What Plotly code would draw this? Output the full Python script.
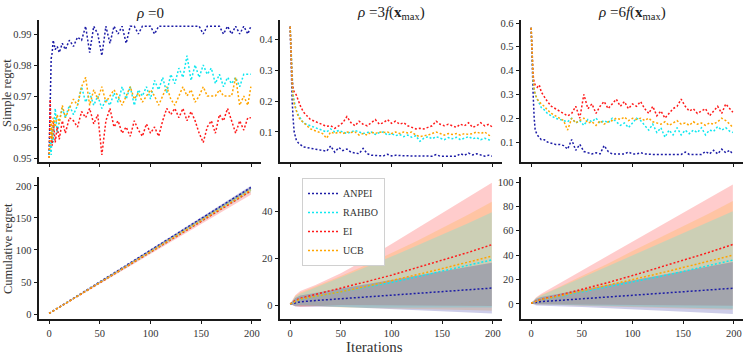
import plotly.graph_objects as go

# ---------------- data ----------------
METHODS = ["ANPEI", "RAHBO", "EI", "UCB"]
TITLES = ["<i>ρ</i> =0", "<i>ρ</i> =3<i>f</i>(<b>x</b><sub>max</sub>)", "<i>ρ</i> =6<i>f</i>(<b>x</b><sub>max</sub>)"]

ITER = [0, 1, 2, 3, 4, 6, 8, 10, 13, 16,
        20, 24, 28, 32, 36, 40, 44, 48, 52, 56,
        60, 64, 68, 72, 76, 80, 84, 88, 92, 96,
        100, 104, 108, 112, 116, 120, 124, 128, 132, 136,
        140, 144, 148, 152, 156, 160, 164, 168, 172, 176,
        180, 184, 188, 192, 196, 199]

# simple regret, rho = 0
s0_anpei = [0.951, 0.975, 0.982, 0.984, 0.988, 0.985, 0.986, 0.984, 0.987, 0.985,
            0.988, 0.986, 0.989, 0.988, 0.9925, 0.984, 0.9925, 0.990, 0.983, 0.9925,
            0.987, 0.9925, 0.990, 0.9925, 0.987, 0.9925, 0.9925, 0.990, 0.9925, 0.9925,
            0.9925, 0.990, 0.9925, 0.9925, 0.9925, 0.9925, 0.9925, 0.9925, 0.9925, 0.9925,
            0.9925, 0.9925, 0.9925, 0.990, 0.9925, 0.9925, 0.9925, 0.9925, 0.990, 0.9925,
            0.990, 0.9925, 0.990, 0.9925, 0.990, 0.9925]
s0_rahbo = [0.951, 0.955, 0.951, 0.960, 0.955, 0.966, 0.958, 0.962, 0.966, 0.963,
            0.967, 0.964, 0.967, 0.973, 0.968, 0.971, 0.967, 0.970, 0.966, 0.969,
            0.967, 0.971, 0.968, 0.973, 0.969, 0.973, 0.967, 0.972, 0.970, 0.973,
            0.969, 0.975, 0.972, 0.976, 0.971, 0.977, 0.974, 0.979, 0.976, 0.983,
            0.975, 0.980, 0.976, 0.980, 0.977, 0.979, 0.974, 0.977, 0.973, 0.976,
            0.974, 0.976, 0.973, 0.977, 0.977, 0.977]
s0_ei = [0.950, 0.969, 0.958, 0.954, 0.962, 0.955, 0.960, 0.956, 0.962, 0.958,
         0.963, 0.962, 0.960, 0.965, 0.963, 0.966, 0.961, 0.964, 0.951, 0.962,
         0.966, 0.960, 0.962, 0.958, 0.960, 0.957, 0.962, 0.959, 0.957, 0.961,
         0.958, 0.960, 0.957, 0.962, 0.966, 0.964, 0.966, 0.963, 0.966, 0.962,
         0.965, 0.962, 0.958, 0.955, 0.960, 0.962, 0.958, 0.964, 0.962, 0.966,
         0.962, 0.958, 0.962, 0.959, 0.963, 0.963]
s0_ucb = [0.950, 0.958, 0.962, 0.956, 0.963, 0.960, 0.964, 0.961, 0.967, 0.963,
          0.966, 0.969, 0.967, 0.973, 0.976, 0.967, 0.972, 0.969, 0.973, 0.968,
          0.970, 0.972, 0.970, 0.967, 0.970, 0.973, 0.969, 0.971, 0.968, 0.970,
          0.972, 0.970, 0.967, 0.970, 0.973, 0.969, 0.967, 0.970, 0.973, 0.970,
          0.972, 0.968, 0.970, 0.973, 0.970, 0.970, 0.970, 0.972, 0.970, 0.970,
          0.970, 0.976, 0.967, 0.970, 0.967, 0.973]

# simple regret, rho = 3 f(x_max)
s3_anpei = [0.44, 0.30, 0.20, 0.14, 0.10, 0.075, 0.065, 0.060, 0.052, 0.050,
            0.048, 0.045, 0.042, 0.040, 0.038, 0.055, 0.035, 0.050, 0.040, 0.045,
            0.035, 0.032, 0.030, 0.047, 0.030, 0.025, 0.025, 0.025, 0.023, 0.028,
            0.023, 0.025, 0.023, 0.023, 0.023, 0.023, 0.022, 0.022, 0.022, 0.022,
            0.022, 0.027, 0.022, 0.022, 0.022, 0.022, 0.022, 0.030, 0.025, 0.032,
            0.026, 0.030, 0.025, 0.022, 0.025, 0.022]
s3_rahbo = [0.44, 0.35, 0.27, 0.22, 0.20, 0.17, 0.155, 0.145, 0.13, 0.125,
            0.12, 0.115, 0.11, 0.105, 0.10, 0.11, 0.10, 0.105, 0.10, 0.095,
            0.10, 0.105, 0.10, 0.095, 0.098, 0.10, 0.092, 0.098, 0.10, 0.09,
            0.095, 0.088, 0.092, 0.085, 0.09, 0.083, 0.088, 0.07, 0.08, 0.085,
            0.078, 0.085, 0.08, 0.075, 0.082, 0.078, 0.083, 0.075, 0.08, 0.085,
            0.078, 0.082, 0.075, 0.08, 0.075, 0.073]
s3_ei = [0.44, 0.34, 0.27, 0.24, 0.23, 0.22, 0.20, 0.185, 0.165, 0.155,
         0.14, 0.135, 0.13, 0.125, 0.118, 0.12, 0.112, 0.12, 0.13, 0.15,
         0.13, 0.12, 0.135, 0.125, 0.12, 0.13, 0.14, 0.125, 0.13, 0.14,
         0.128, 0.135, 0.125, 0.13, 0.12, 0.115, 0.11, 0.112, 0.11, 0.115,
         0.12, 0.135, 0.125, 0.12, 0.125, 0.12, 0.115, 0.125, 0.12, 0.13,
         0.115, 0.12, 0.13, 0.12, 0.125, 0.117]
s3_ucb = [0.44, 0.32, 0.25, 0.21, 0.19, 0.17, 0.15, 0.14, 0.13, 0.12,
          0.11, 0.105, 0.10, 0.095, 0.08, 0.10, 0.095, 0.10, 0.095, 0.10,
          0.098, 0.10, 0.09, 0.095, 0.09, 0.10, 0.095, 0.10, 0.098, 0.10,
          0.095, 0.10, 0.095, 0.10, 0.097, 0.10, 0.09, 0.085, 0.088, 0.09,
          0.095, 0.10, 0.095, 0.09, 0.095, 0.092, 0.095, 0.09, 0.095, 0.092,
          0.095, 0.10, 0.095, 0.10, 0.09, 0.085]

# simple regret, rho = 6 f(x_max)
s6_anpei = [0.58, 0.40, 0.30, 0.20, 0.15, 0.13, 0.12, 0.11, 0.11, 0.10,
            0.095, 0.09, 0.09, 0.085, 0.07, 0.11, 0.065, 0.09, 0.06, 0.055,
            0.05, 0.055, 0.05, 0.085, 0.06, 0.05, 0.05, 0.05, 0.05, 0.058,
            0.05, 0.05, 0.055, 0.05, 0.048, 0.048, 0.048, 0.048, 0.048, 0.048,
            0.048, 0.048, 0.048, 0.058, 0.048, 0.048, 0.048, 0.048, 0.06, 0.05,
            0.065, 0.05, 0.07, 0.055, 0.065, 0.048]
s6_rahbo = [0.58, 0.45, 0.36, 0.32, 0.30, 0.28, 0.26, 0.245, 0.235, 0.22,
            0.21, 0.20, 0.195, 0.19, 0.185, 0.20, 0.18, 0.19, 0.17, 0.195,
            0.185, 0.20, 0.18, 0.19, 0.18, 0.20, 0.185, 0.17, 0.18, 0.16,
            0.18, 0.20, 0.19, 0.17, 0.15, 0.175, 0.14, 0.16, 0.12, 0.15,
            0.13, 0.16, 0.13, 0.15, 0.135, 0.15, 0.14, 0.16, 0.13, 0.15,
            0.145, 0.165, 0.15, 0.16, 0.145, 0.14]
s6_ei = [0.58, 0.45, 0.38, 0.35, 0.34, 0.33, 0.34, 0.31, 0.29, 0.27,
         0.25, 0.24, 0.23, 0.22, 0.21, 0.22, 0.25, 0.20, 0.30, 0.24,
         0.26, 0.22, 0.25, 0.27, 0.24, 0.26, 0.28, 0.25, 0.27, 0.24,
         0.26, 0.25, 0.27, 0.24, 0.22, 0.25, 0.21, 0.23, 0.20, 0.22,
         0.24, 0.25, 0.28, 0.25, 0.23, 0.24, 0.22, 0.23, 0.24, 0.21,
         0.23, 0.25, 0.22, 0.26, 0.24, 0.225]
s6_ucb = [0.58, 0.45, 0.36, 0.32, 0.30, 0.28, 0.27, 0.26, 0.25, 0.235,
          0.22, 0.21, 0.20, 0.19, 0.15, 0.20, 0.18, 0.19, 0.20, 0.18,
          0.185, 0.17, 0.19, 0.175, 0.185, 0.19, 0.20, 0.195, 0.205, 0.19,
          0.20, 0.195, 0.20, 0.19, 0.20, 0.185, 0.18, 0.175, 0.185, 0.17,
          0.18, 0.19, 0.175, 0.18, 0.17, 0.185, 0.175, 0.18, 0.17, 0.18,
          0.175, 0.185, 0.20, 0.19, 0.175, 0.16]

# cumulative regret (mean, upper, lower)
ITER_C = [0, 5, 10, 25, 50, 75, 100, 125, 150, 175, 199]

c0_anpei = [0.95, 5.8, 10.7, 25.5, 50.2, 74.9, 99.6, 124.4, 149.1, 173.9, 197.6]
c0_anpei_hi = [0.95, 5.9, 10.9, 26.0, 51.0, 76.0, 101.0, 126.1, 151.2, 176.3, 200.5]
c0_anpei_lo = [0.95, 5.7, 10.5, 25.0, 49.4, 73.8, 98.2, 122.7, 147.0, 171.5, 194.7]
c0_rahbo = [0.95, 5.7, 10.5, 24.9, 49.0, 73.2, 97.3, 121.6, 146.0, 170.4, 194.3]
c0_rahbo_hi = [0.95, 5.9, 10.8, 25.5, 50.1, 74.8, 99.4, 124.2, 149.0, 173.9, 198.3]
c0_rahbo_lo = [0.95, 5.5, 10.2, 24.3, 47.9, 71.6, 95.2, 119.0, 143.0, 166.9, 190.3]
c0_ei = [0.95, 5.7, 10.4, 24.7, 48.7, 72.6, 96.6, 120.6, 144.7, 168.6, 192.3]
c0_ei_hi = [0.95, 5.9, 10.8, 25.5, 50.2, 74.8, 99.5, 124.2, 149.0, 173.7, 198.3]
c0_ei_lo = [0.95, 5.4, 10.0, 23.8, 47.1, 70.4, 93.7, 117.0, 140.4, 163.6, 186.3]
c0_ucb = [0.95, 5.7, 10.5, 24.9, 49.0, 73.2, 97.4, 121.7, 145.9, 170.2, 193.9]
c0_ucb_hi = [0.95, 5.9, 10.8, 25.5, 50.0, 74.6, 99.2, 123.9, 148.5, 173.2, 197.4]
c0_ucb_lo = [0.95, 5.5, 10.2, 24.3, 48.0, 71.8, 95.6, 119.5, 143.3, 167.2, 190.4]

c3_anpei = [0.44, 1.0, 1.35, 1.9, 2.7, 3.5, 4.2, 4.9, 5.7, 6.5, 7.2]
c3_anpei_hi = [0.44, 3.0, 4.0, 5.1, 6.9, 8.7, 10.6, 12.4, 14.3, 16.1, 18.0]
c3_anpei_lo = [0.44, -0.6, -0.9, -0.9, -0.9, -1.3, -1.8, -2.2, -2.6, -3.1, -3.6]
c3_rahbo = [0.44, 1.6, 2.4, 3.6, 5.4, 7.5, 9.6, 12.0, 14.4, 16.8, 19.2]
c3_rahbo_hi = [0.44, 3.5, 4.8, 7.5, 11.8, 16.2, 20.6, 25.2, 29.9, 34.7, 39.5]
c3_rahbo_lo = [0.44, -0.3, 0.0, -0.3, -0.9, -1.2, -1.3, -1.3, -1.2, -1.1, -1.1]
c3_ei = [0.44, 1.9, 2.9, 4.5, 7.0, 9.9, 12.7, 15.8, 19.0, 22.3, 25.7]
c3_ei_hi = [0.44, 4.2, 6.0, 8.5, 13.5, 19.5, 26.0, 32.5, 39.0, 45.5, 52.0]
c3_ei_lo = [0.44, -0.5, -0.8, -0.5, 0.0, 0.2, 0.0, -0.1, -0.2, -0.3, -0.4]
c3_ucb = [0.44, 1.6, 2.5, 3.7, 5.6, 7.9, 10.3, 12.9, 15.5, 18.1, 20.8]
c3_ucb_hi = [0.44, 3.8, 5.3, 7.8, 12.3, 17.0, 22.0, 27.3, 32.8, 38.3, 44.0]
c3_ucb_lo = [0.44, -0.4, -0.3, -0.4, -1.1, -1.3, -1.5, -1.7, -1.9, -2.1, -2.4]

c6_anpei = [0.58, 1.5, 2.0, 2.8, 4.2, 5.6, 7.0, 8.4, 9.9, 11.4, 12.9]
c6_anpei_hi = [0.58, 4.3, 5.7, 8.0, 11.8, 15.4, 19.2, 23.0, 26.8, 30.6, 34.5]
c6_anpei_lo = [0.58, -1.2, -1.7, -1.8, -2.5, -3.5, -4.5, -5.5, -6.4, -7.3, -8.3]
c6_rahbo = [0.58, 2.3, 3.8, 5.8, 9.8, 14.0, 18.0, 22.2, 26.7, 31.3, 36.0]
c6_rahbo_hi = [0.58, 4.8, 7.0, 12.5, 21.6, 30.7, 39.9, 49.0, 58.1, 67.2, 76.0]
c6_rahbo_lo = [0.58, -0.3, -0.3, -0.4, -0.9, -1.5, -2.0, -2.5, -3.0, -3.5, -4.0]
c6_ei = [0.58, 2.6, 4.0, 6.6, 11.7, 17.4, 23.3, 29.4, 35.6, 42.2, 48.8]
c6_ei_hi = [0.58, 5.5, 8.5, 15.6, 27.4, 39.3, 51.1, 62.9, 74.8, 86.6, 98.0]
c6_ei_lo = [0.58, -0.3, -0.2, 0.2, -0.2, -0.2, -0.5, -0.8, -1.0, -1.2, -1.4]
c6_ucb = [0.58, 2.4, 3.8, 6.0, 10.5, 15.0, 20.0, 24.8, 29.9, 34.9, 40.0]
c6_ucb_hi = [0.58, 5.0, 7.6, 13.0, 23.0, 32.8, 43.4, 53.6, 63.8, 74.0, 84.5]
c6_ucb_lo = [0.58, -0.4, -0.5, -0.6, -1.5, -2.2, -2.8, -3.3, -3.8, -4.3, -4.8]

SIMPLE = [
    [s0_anpei, s0_rahbo, s0_ei, s0_ucb],
    [s3_anpei, s3_rahbo, s3_ei, s3_ucb],
    [s6_anpei, s6_rahbo, s6_ei, s6_ucb],
]
CUMUL = [
    [(c0_anpei, c0_anpei_hi, c0_anpei_lo), (c0_rahbo, c0_rahbo_hi, c0_rahbo_lo),
     (c0_ei, c0_ei_hi, c0_ei_lo), (c0_ucb, c0_ucb_hi, c0_ucb_lo)],
    [(c3_anpei, c3_anpei_hi, c3_anpei_lo), (c3_rahbo, c3_rahbo_hi, c3_rahbo_lo),
     (c3_ei, c3_ei_hi, c3_ei_lo), (c3_ucb, c3_ucb_hi, c3_ucb_lo)],
    [(c6_anpei, c6_anpei_hi, c6_anpei_lo), (c6_rahbo, c6_rahbo_hi, c6_rahbo_lo),
     (c6_ei, c6_ei_hi, c6_ei_lo), (c6_ucb, c6_ucb_hi, c6_ucb_lo)],
]

# ---------------- styling ----------------
W, H = 748, 359
LINE_COLORS = ["#1c1ca6", "#10e8f0", "#ff1a1a", "#ffa500"]
FILL_COLORS = ["rgba(0,0,139,0.2)", "rgba(0,255,255,0.2)", "rgba(255,0,0,0.2)", "rgba(255,165,0,0.2)"]
FILL_ORDER = [2, 3, 1, 0]  # EI, UCB, RAHBO, ANPEI
FONT = "Liberation Serif, DejaVu Serif, serif"
DASH = "2px,2px"

COL_PX = [(39, 261), (280, 502), (521, 743)]
ROW_PX = [(20, 162), (177, 319)]  # top px, bottom px
Y_RANGES = [
    [(0.94871, 0.99452), (0.0032, 0.4613), (0.016, 0.6126)],
    [(-7.8, 214), (-5.96, 54.5), (-12.3, 104.1)],
]
Y_TICKS = [
    [[0.95, 0.96, 0.97, 0.98, 0.99], [0.1, 0.2, 0.3, 0.4], [0.1, 0.2, 0.3, 0.4, 0.5, 0.6]],
    [[0, 50, 100, 150, 200], [0, 20, 40], [0, 20, 40, 60, 80, 100]],
]

fig = go.Figure()
layout = {}

for r in range(2):
    for c in range(3):
        idx = r * 3 + c + 1
        xa = "xaxis" if idx == 1 else f"xaxis{idx}"
        ya = "yaxis" if idx == 1 else f"yaxis{idx}"
        xref = "x" if idx == 1 else f"x{idx}"
        yref = "y" if idx == 1 else f"y{idx}"
        x0, x1 = COL_PX[c]
        t, b = ROW_PX[r]
        common = dict(showline=True, linecolor="#1a1a1a", linewidth=1.6, ticks="outside",
                      ticklen=3.5, tickwidth=1, tickcolor="#1a1a1a", showgrid=False,
                      zeroline=False, mirror=False, automargin=False,
                      tickfont=dict(family=FONT, size=10.5, color="#333333"))
        layout[xa] = dict(common, domain=[x0 / W, x1 / W], range=[-10, 209],
                          tickvals=[0, 50, 100, 150, 200], anchor=yref,
                          showticklabels=(r == 1))
        layout[ya] = dict(common, domain=[(H - b) / H, (H - t) / H],
                          range=list(Y_RANGES[r][c]), tickvals=Y_TICKS[r][c], anchor=xref)

        if r == 0:
            for m in range(4):
                fig.add_trace(go.Scatter(
                    x=ITER, y=SIMPLE[c][m], mode="lines", xaxis=xref, yaxis=yref,
                    line=dict(color=LINE_COLORS[m], width=1.5, dash=DASH),
                    showlegend=False, hoverinfo="skip"))
        else:
            for m in FILL_ORDER:
                mean, hi, lo = CUMUL[c][m]
                fig.add_trace(go.Scatter(
                    x=ITER_C + ITER_C[::-1], y=hi + lo[::-1], mode="lines",
                    fill="toself", fillcolor=FILL_COLORS[m], line=dict(width=0),
                    xaxis=xref, yaxis=yref, showlegend=False, hoverinfo="skip"))
            for m in range(4):
                mean, hi, lo = CUMUL[c][m]
                fig.add_trace(go.Scatter(
                    x=ITER_C, y=mean, mode="lines", xaxis=xref, yaxis=yref,
                    name=METHODS[m], legendrank=m + 1,
                    line=dict(color=LINE_COLORS[m], width=1.5, dash=DASH),
                    showlegend=(c == 1), hoverinfo="skip"))

annotations = []
for c in range(3):
    x0, x1 = COL_PX[c]
    annotations.append(dict(text=TITLES[c], x=(x0 + x1) / 2 / W, y=(H - 13) / H,
                            xref="paper", yref="paper", showarrow=False,
                            xanchor="center", yanchor="middle",
                            font=dict(family=FONT, size=15, color="#222222")))
annotations.append(dict(text="Simple regret", x=7 / W, y=(H - 93) / H, xref="paper", yref="paper",
                        showarrow=False, textangle=-90, xanchor="center", yanchor="middle",
                        font=dict(family=FONT, size=12.5, color="#333333")))
annotations.append(dict(text="Cumulative regret", x=8 / W, y=(H - 249) / H, xref="paper", yref="paper",
                        showarrow=False, textangle=-90, xanchor="center", yanchor="middle",
                        font=dict(family=FONT, size=12.5, color="#333333")))
annotations.append(dict(text="Iterations", x=374 / W, y=(H - 347) / H, xref="paper", yref="paper",
                        showarrow=False, xanchor="center", yanchor="middle",
                        font=dict(family=FONT, size=15, color="#333333")))

fig.update_layout(
    width=W, height=H, margin=dict(l=0, r=0, t=0, b=0, autoexpand=False),
    paper_bgcolor="white", plot_bgcolor="white",
    annotations=annotations,
    legend=dict(x=302 / W, y=(H - 178) / H, xanchor="left", yanchor="top",
                bgcolor="white", bordercolor="#d0d0d0", borderwidth=1,
                font=dict(family=FONT, size=10, color="#333333"),
                tracegroupgap=0, itemwidth=30),
    **layout,
)

fig.write_html("out.html", config={"displayModeBar": False},
               post_script="document.body.style.margin='0';document.body.style.padding='0';")
